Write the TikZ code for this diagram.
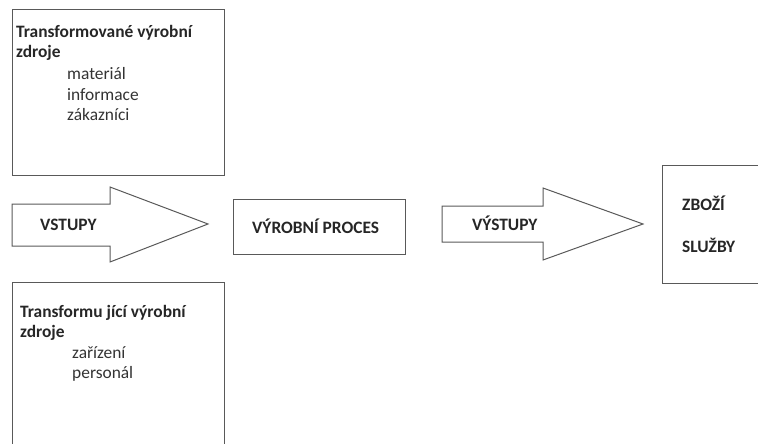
\documentclass[tikz,border=0pt]{standalone}
\usepackage{fontspec}
\setmainfont{Carlito}
\begin{document}
\begin{tikzpicture}[x=1pt,y=-1pt,
  frame/.style={draw=black!65,line width=1pt},
  bt/.style={anchor=base west,inner sep=0pt,font=\fontsize{17.4}{20}\selectfont\bfseries,text=black!85},
  rt/.style={anchor=base west,inner sep=0pt,font=\fontsize{17.4}{20}\selectfont,text=black!80}]
\useasboundingbox (0,0) rectangle (758,444);
\begin{scope}
\clip (0,0) rectangle (758,444);
% top box
\draw[frame] (12,10) rectangle (224,175);
% bottom box
\draw[frame] (12,282) rectangle (224,460);
% process box
\draw[frame] (233,199) rectangle (405,254);
% right box
\draw[frame] (662,165) rectangle (780,283);
% VSTUPY arrow
\draw[frame,line join=miter] (12,204) -- (110,204) -- (110,187) -- (208,224) -- (110,262) -- (110,246) -- (12,246) -- cycle;
% VYSTUPY arrow
\draw[frame,line join=miter] (442,206) -- (543,206) -- (543,188) -- (643,224) -- (543,260) -- (543,242) -- (442,242) -- cycle;
\end{scope}
% texts top box
\node[bt] (t1) at (16,38) {Transformované výrobní};
\node[bt] (t2) at (16,58) {zdroje};
\node[rt] (t3) at (67,80) {materiál};
\node[rt] (t4) at (67,100) {informace};
\node[rt] (t5) at (67,120) {zákazníci};
% texts bottom box
\node[bt] (b1) at (20,317) {Transformu jící výrobní};
\node[bt] (b2) at (20,337) {zdroje};
\node[rt] (b3) at (72,358) {zařízení};
\node[rt] (b4) at (72,378) {personál};
% arrows and boxes labels
\node[bt] (vst) at (40,230) {VSTUPY};
\node[bt] (proc) at (252,233) {VÝROBNÍ PROCES};
\node[bt] (vys) at (472,230) {VÝSTUPY};
\node[bt] (zb) at (682,210) {ZBOŽÍ};
\node[bt] (sl) at (682,252) {SLUŽBY};
\end{tikzpicture}
\end{document}
